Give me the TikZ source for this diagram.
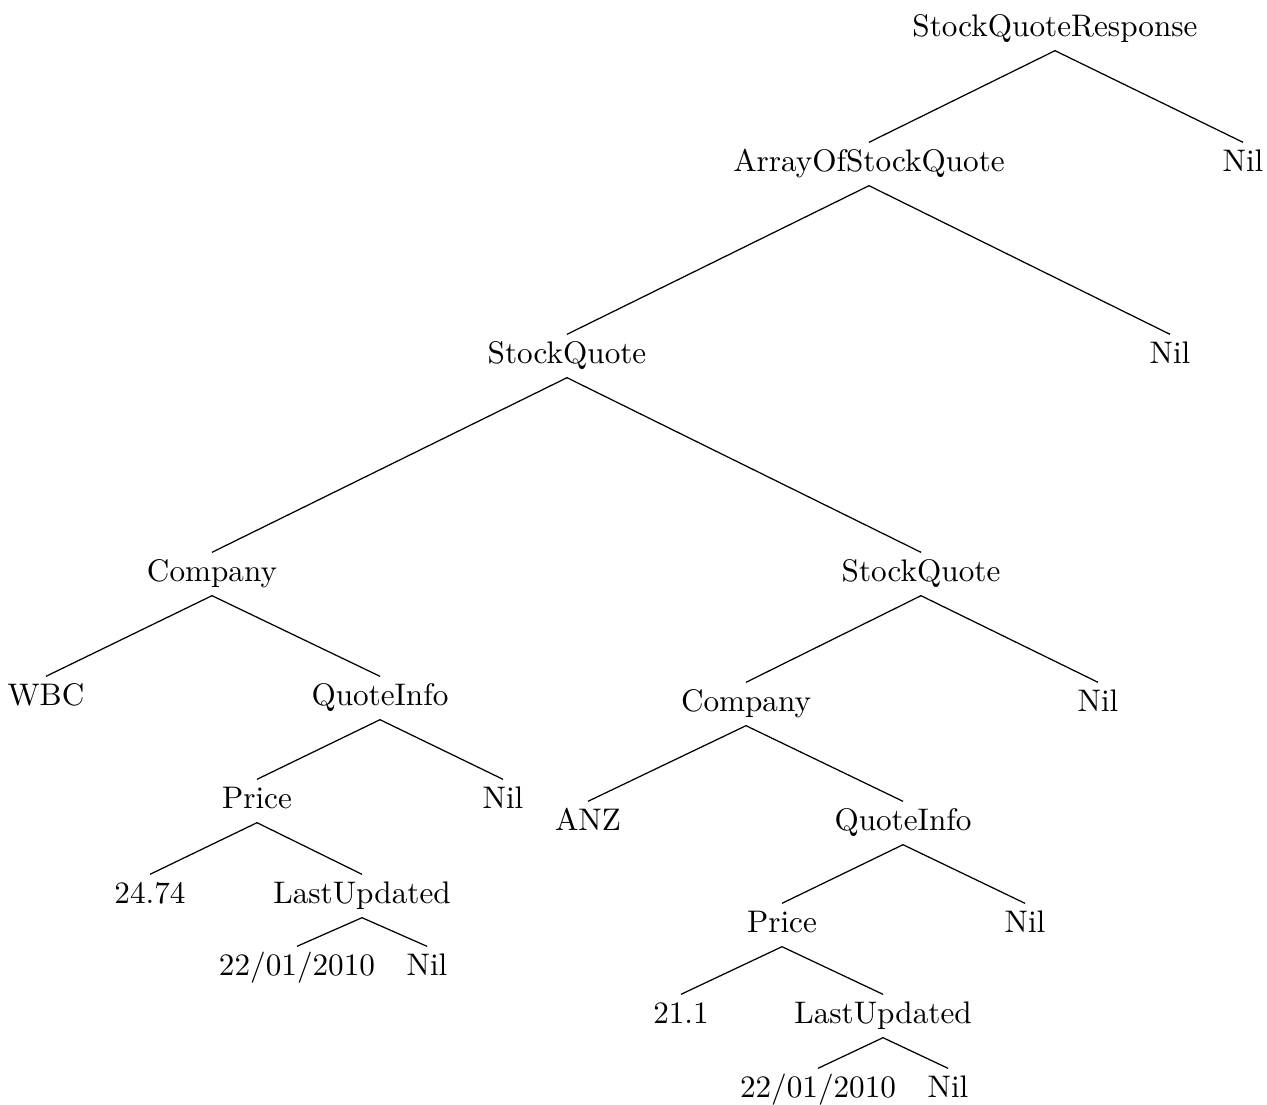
\documentclass[tikz,border=0pt]{standalone}
\begin{document}
\begin{tikzpicture}[x=0.3205pt, y=-0.3205pt,
  tn/.style={anchor=base, inner xsep=0pt, inner ysep=2.5pt, text height=6.5pt, text depth=2pt},
  br/.style={draw, line width=0.4pt}]
\useasboundingbox (0,0) rectangle (1267,1104);
% level nodes
\node[tn] (root) at (1055,36) {StockQuoteResponse};
\node[tn] (arr)  at (869,171) {ArrayOfStockQuote};
\node[tn] (nilA) at (1243,171) {Nil};
\node[tn] (sq1)  at (567,363) {StockQuote};
\node[tn] (nilB) at (1170,363) {Nil};
\node[tn] (co1)  at (212,581) {Company};
\node[tn] (sq2)  at (921,581) {StockQuote};
% first quote
\node[tn] (wbc)  at (46,705) {WBC};
\node[tn] (qi1)  at (380,705) {QuoteInfo};
\node[tn] (pr1)  at (257,808) {Price};
\node[tn] (nilC) at (503,808) {Nil};
\node[tn] (v1)   at (150,903) {24.74};
\node[tn] (lu1)  at (362,903) {LastUpdated};
\node[tn] (d1)   at (297,975) {22/01/2010};
\node[tn] (nilD) at (427,975) {Nil};
% second quote
\node[tn] (co2)  at (746,711) {Company};
\node[tn] (nilE) at (1098,711) {Nil};
\node[tn] (anz)  at (588,830) {ANZ};
\node[tn] (qi2)  at (903,830) {QuoteInfo};
\node[tn] (pr2)  at (782,932) {Price};
\node[tn] (nilF) at (1025,932) {Nil};
\node[tn] (v2)   at (681,1023) {21.1};
\node[tn] (lu2)  at (883,1023) {LastUpdated};
\node[tn] (d2)   at (818,1097) {22/01/2010};
\node[tn] (nilG) at (948,1097) {Nil};
% branches
\foreach \p/\a/\b in {root/arr/nilA, arr/sq1/nilB, sq1/co1/sq2,
    co1/wbc/qi1, qi1/pr1/nilC, pr1/v1/lu1, lu1/d1/nilD,
    sq2/co2/nilE, co2/anz/qi2, qi2/pr2/nilF, pr2/v2/lu2, lu2/d2/nilG}
  \path[br] (\a.north) -- (\p.south) -- (\b.north);
\end{tikzpicture}
\end{document}
